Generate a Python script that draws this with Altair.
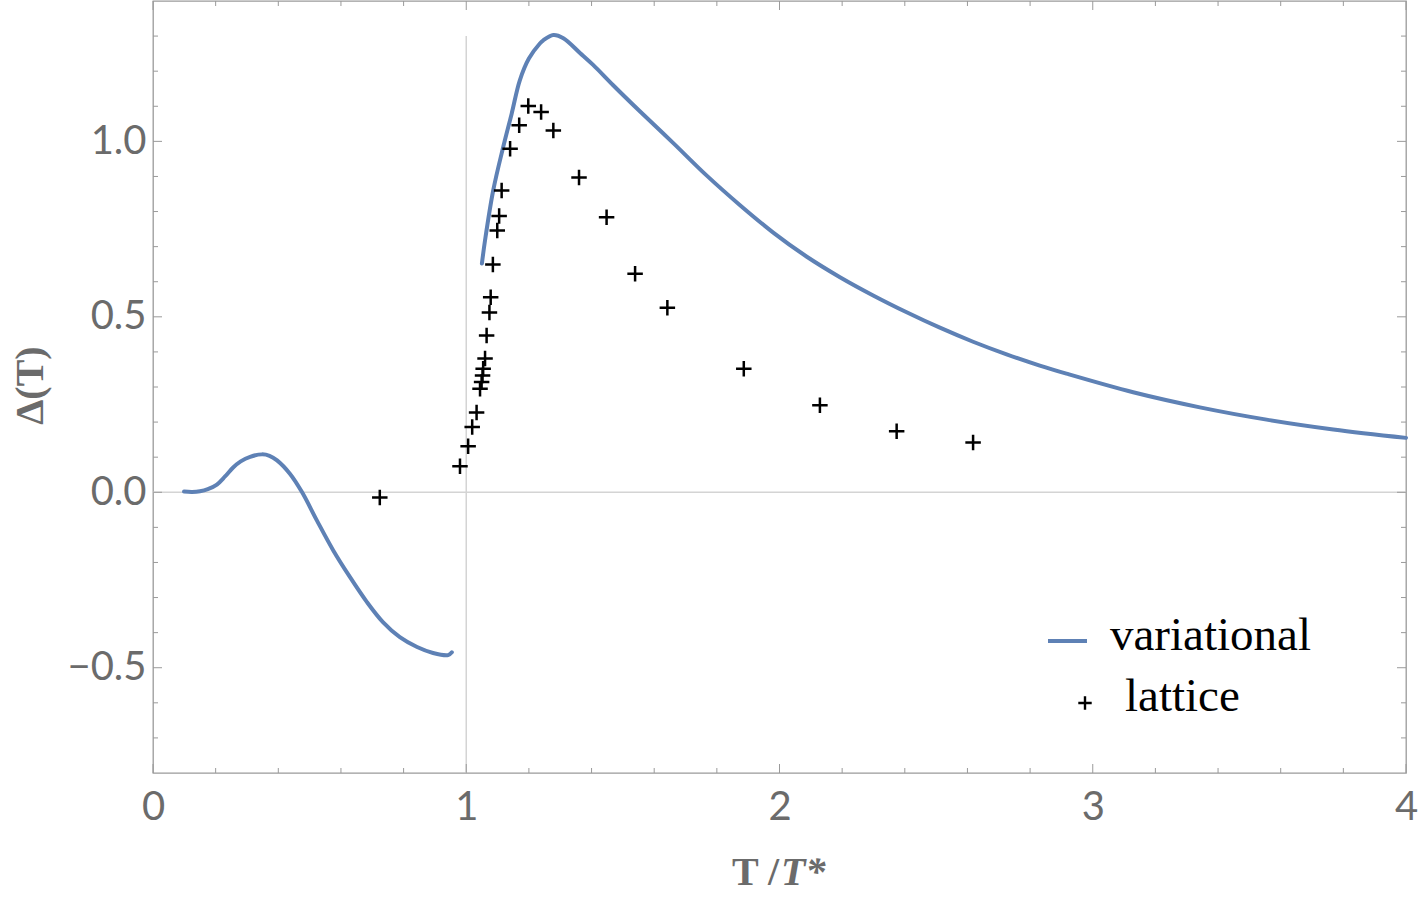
import altair as alt
import pandas as pd

# ---- variational solution: low-temperature branch ----
var_lo_t = [0.099, 0.125, 0.150, 0.175, 0.204, 0.230, 0.255, 0.280, 0.310, 0.348,
            0.372, 0.396, 0.437, 0.476, 0.523, 0.575, 0.629, 0.683, 0.734, 0.788,
            0.843, 0.894, 0.942, 0.954]
var_lo_d = [0.002, 0.001, 0.003, 0.009, 0.022, 0.045, 0.070, 0.088, 0.101, 0.108,
            0.104, 0.091, 0.053, 0.000, -0.080, -0.165, -0.242, -0.313, -0.370, -0.413,
            -0.441, -0.458, -0.464, -0.456]

# ---- variational solution: high-temperature branch ----
var_hi_t = [1.050, 1.060, 1.086, 1.118, 1.145, 1.171, 1.200, 1.235, 1.246, 1.278,
            1.310, 1.363, 1.405, 1.469, 1.555, 1.661, 1.767, 1.874, 1.980, 2.086,
            2.193, 2.299, 2.406, 2.512, 2.618, 2.725, 2.831, 2.916, 3.129, 3.342,
            3.555, 3.768, 4.000]
var_hi_d = [0.652, 0.718, 0.860, 0.984, 1.079, 1.174, 1.236, 1.279, 1.288, 1.303,
            1.294, 1.252, 1.218, 1.160, 1.085, 0.995, 0.903, 0.818, 0.740, 0.672,
            0.613, 0.561, 0.513, 0.469, 0.429, 0.393, 0.361, 0.338, 0.285, 0.242,
            0.207, 0.179, 0.155]

# ---- lattice data ----
lat_t = [0.724, 0.980, 1.006, 1.019, 1.033, 1.044, 1.049, 1.052, 1.054, 1.060,
         1.065, 1.074, 1.078, 1.085, 1.099, 1.105, 1.113, 1.140, 1.169, 1.198,
         1.239, 1.278, 1.360, 1.448, 1.539, 1.642, 1.886, 2.129, 2.374, 2.618]
lat_d = [-0.015, 0.074, 0.131, 0.186, 0.227, 0.295, 0.314, 0.333, 0.352, 0.381,
         0.447, 0.512, 0.556, 0.649, 0.746, 0.787, 0.860, 0.979, 1.046, 1.101,
         1.084, 1.031, 0.897, 0.784, 0.623, 0.526, 0.352, 0.248, 0.174, 0.142]

# ---- frame ticks ----
x_major = [0, 1, 2, 3, 4]
x_minor = [0.2, 0.4, 0.6, 0.8, 1.2, 1.4, 1.6, 1.8, 2.2, 2.4, 2.6, 2.8,
           3.2, 3.4, 3.6, 3.8]
y_major = [-0.5, 0.0, 0.5, 1.0]
y_minor = [-0.7, -0.6, -0.4, -0.3, -0.2, -0.1, 0.1, 0.2, 0.3, 0.4,
           0.6, 0.7, 0.8, 0.9, 1.1, 1.2, 1.3]

W, H = 1253, 772
BLUE = "#5E81B5"
FRAME = "#9a9a9a"
LABEL = "#6b6b6b"
REF = "#d4d4d4"

XS = alt.Scale(domain=[0, 4], nice=False, zero=False)
YS = alt.Scale(domain=[-0.8, 1.4], nice=False, zero=False)

X_AXIS = alt.Axis(values=x_major, format="d", ticks=False, domain=False, grid=False,
                  labelFont="Lato", labelFontSize=40, labelColor=LABEL,
                  labelPadding=14, labelFlush=False, title=None)
Y_AXIS = alt.Axis(values=y_major, format=".1f", ticks=False, domain=False, grid=False,
                  labelFont="Lato", labelFontSize=40, labelColor=LABEL,
                  labelPadding=7, labelFlush=False,
                  title="Δ(T)", titleFont="Liberation Serif", titleFontWeight="bold",
                  titleFontSize=40, titleColor=LABEL, titleAngle=270,
                  titleX=-123, titleY=384, titleAlign="center", titleBaseline="middle")


def xq(field):
    return alt.X(field, type="quantitative", scale=XS, axis=X_AXIS)


def yq(field):
    return alt.Y(field, type="quantitative", scale=YS, axis=Y_AXIS)


curve = pd.DataFrame({
    "t": var_lo_t + var_hi_t,
    "d": var_lo_d + var_hi_d,
    "branch": ["low"] * len(var_lo_t) + ["high"] * len(var_hi_t),
})
lattice = pd.DataFrame({"t": lat_t, "d": lat_d})
one = pd.DataFrame({"k": [0]})

PLUS = "M-1,0L1,0M0,-1L0,1"

# reference axes through (1, 0)
vline = alt.Chart(one).mark_rule(color=REF, strokeWidth=1.5).encode(
    x=alt.X(datum=1, type="quantitative", scale=XS, axis=X_AXIS),
    y=alt.Y(datum=-0.8, type="quantitative", scale=YS, axis=Y_AXIS),
    y2=alt.Y2(datum=1.3),
)
hline = alt.Chart(one).mark_rule(color=REF, strokeWidth=1.5).encode(
    x=alt.X(datum=0, type="quantitative", scale=XS, axis=X_AXIS),
    x2=alt.X2(datum=4),
    y=alt.Y(datum=0, type="quantitative", scale=YS, axis=Y_AXIS),
)

lines = alt.Chart(curve).mark_line(
    color=BLUE, strokeWidth=4, interpolate="catmull-rom", strokeCap="round", strokeJoin="round"
).encode(x=xq("t"), y=yq("d"), detail="branch:N", order="t:Q")

points = alt.Chart(lattice).mark_point(
    shape=PLUS, filled=False, color="black", strokeWidth=2.5, size=240, opacity=1
).encode(x=xq("t"), y=yq("d"))


def tick_layer(vals, side, length):
    df = pd.DataFrame({"v": vals})
    base = alt.Chart(df).mark_rule(color=FRAME, strokeWidth=1)
    if side == "bottom":
        return base.encode(x=xq("v"), y=alt.value(H), y2=alt.value(H - length))
    if side == "top":
        return base.encode(x=xq("v"), y=alt.value(0), y2=alt.value(length))
    if side == "left":
        return base.encode(y=yq("v"), x=alt.value(0), x2=alt.value(length))
    return base.encode(y=yq("v"), x=alt.value(W), x2=alt.value(W - length))


ticks = []
for side in ["bottom", "top"]:
    ticks.append(tick_layer(x_major, side, 9))
    ticks.append(tick_layer(x_minor, side, 5))
for side in ["left", "right"]:
    ticks.append(tick_layer(y_major, side, 9))
    ticks.append(tick_layer(y_minor, side, 5))

# x-axis title: upright T over italic T*
xt1 = alt.Chart(one).mark_text(
    text="T /", font="Liberation Serif", fontWeight="bold", fontSize=40,
    color=LABEL, align="left", baseline="alphabetic"
).encode(x=alt.value(579), y=alt.value(884))
xt2 = alt.Chart(one).mark_text(
    text="T*", font="Liberation Serif", fontWeight="bold", fontStyle="italic",
    fontSize=40, color=LABEL, align="left", baseline="alphabetic"
).encode(x=alt.value(628), y=alt.value(884))

# legend
leg_line = alt.Chart(one).mark_rule(color=BLUE, strokeWidth=4).encode(
    x=alt.value(895), x2=alt.value(934), y=alt.value(640)
)
leg_plus = alt.Chart(one).mark_point(
    shape=PLUS, filled=False, color="black", strokeWidth=2.4, size=180, opacity=1
).encode(x=alt.value(932), y=alt.value(702))
leg_t1 = alt.Chart(one).mark_text(
    text="variational", font="Liberation Serif", fontSize=47, color="black",
    align="left", baseline="alphabetic"
).encode(x=alt.value(957), y=alt.value(649))
leg_t2 = alt.Chart(one).mark_text(
    text="lattice", font="Liberation Serif", fontSize=47, color="black",
    align="left", baseline="alphabetic"
).encode(x=alt.value(972), y=alt.value(710))

chart = alt.layer(
    vline, hline, *ticks, lines, points, xt1, xt2, leg_line, leg_plus, leg_t1, leg_t2
).properties(
    width=W, height=H, autosize="none",
    padding={"left": 153, "top": 1, "right": 13, "bottom": 127},
    background="white",
).configure_view(stroke=FRAME, strokeWidth=1.3)

chart.save("out.html", embed_options={"renderer": "svg", "actions": False})
